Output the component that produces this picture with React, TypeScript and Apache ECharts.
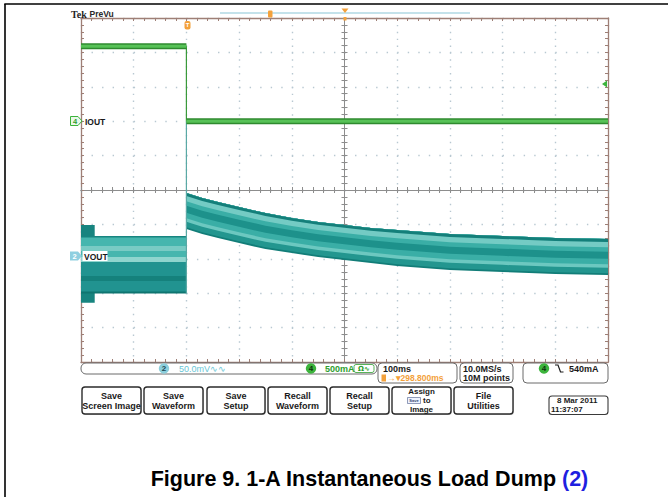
import React, { useEffect, useRef } from "react";
import * as echarts from "echarts";

// ---------------- data ----------------
// Horizontal: 100 ms/div, 10 divisions (trigger at 200 ms)
const timeRangeMs = [0, 1000];
const timeStepMs = 100;
// Vertical graticule: 10 divisions
const divRange = [-5, 5];

// CH4 IOUT (A), 500 mA/div, ground marker 2 div above centre
const ioutAxisAmps = [-3.5, 1.5];
const ioutBeforeTime = [0, 200];
const ioutBeforeAmps = [1.09, 1.09];
const ioutAfterTime = [200, 1000];
const ioutAfterAmps = [0, 0];
const ioutEdgeTime = [200, 200];
const ioutEdgeAmps = [1.09, 0];

// CH2 VOUT (mV), 50 mV/div
const voutAxisMv = [-154, 346];
const burstTime = [0, 26];
const burstTopMv = [45, 45];
const burstBottomMv = [-68, -68];

const preTime = [0, 200];
const preEdgesMv = [-54.5, -51.6, -36.3, -29.1, -8.7, -1.45, 7.3, 14.5, 26.9, 29.1];
const preStripeColors = ["#0f7570", "#219390", "#15817c", "#219390", "#8fd5ce", "#46b6ae", "#79cbc4", "#46b6ae", "#178580"];

const postTime = [200, 230, 260, 300, 350, 400, 450, 500, 550, 600, 650, 700, 750, 800, 850, 900, 950, 1000];
const postTopMv = [91.6, 84.3, 78.5, 71.2, 62.5, 55.2, 49.4, 45.1, 40.7, 37.8, 34.9, 32.0, 30.5, 29.1, 27.6, 26.2, 25.4, 24.7];
const postBottomMv = [39.2, 32.0, 26.2, 18.9, 10.2, 4.4, -1.5, -5.8, -10.2, -14.5, -17.4, -20.3, -21.8, -23.3, -24.7, -26.2, -26.9, -27.6];
const postStripeFractions = [0.05, 0.15, 0.1, 0.15, 0.2, 0.12, 0.15, 0.08];
const postStripeColors = ["#127d78", "#23968f", "#6cc8c0", "#3aaea6", "#1d918b", "#3aaea6", "#74cbc4", "#147f7a"];

const voutEdgeTime = [200, 200];
const voutEdgeMv = [-54.5, 196];

const buttonLabels = [
  ["Save", "Screen Image"],
  ["Save", "Waveform"],
  ["Save", "Setup"],
  ["Recall", "Waveform"],
  ["Recall", "Setup"],
  ["Assign", "to", "Image"],
  ["File", "Utilities"],
];
const buttonLefts = [82, 144, 207, 268, 330, 392, 454];
const buttonWidths = [59, 59, 58, 59, 59, 59, 59];

// ---------------- helpers ----------------
const pairs = (xs: number[], ys: number[]) => xs.map((x, i) => [x, ys[i]]);

function bandSeries(times: number[], lo: number[], hi: number[], color: string, yAxisIndex: number) {
  return {
    type: "custom",
    xAxisIndex: 0,
    yAxisIndex,
    silent: true,
    clip: true,
    data: times.map((t, i) => [t, lo[i], hi[i]]),
    renderItem: (params: any, api: any) => {
      if (params.dataIndex !== 0) return null;
      const top = times.map((t, i) => api.coord([t, hi[i]]));
      const bottom = times.map((t, i) => api.coord([t, lo[i]])).reverse();
      return {
        type: "polygon",
        shape: { points: top.concat(bottom) },
        style: { fill: color },
        silent: true,
      };
    },
  };
}

const SANS = "'Liberation Sans', Arial, sans-serif";
const txt = (x: number, y: number, text: string, font: string, fill: string, align = "left", extra: any = {}) => ({
  type: "text",
  x,
  y,
  silent: true,
  style: { text, font, fill, align, verticalAlign: "middle", textAlign: align, textVerticalAlign: "middle", ...extra },
});

function buildOption() {
  const FRAME = "#9e7f76";
  const CENTRE = "#8d8d8d";
  const DOT = "#b8c8d1";

  const xBase = { type: "value", min: timeRangeMs[0], max: timeRangeMs[1], interval: timeStepMs, axisLabel: { show: false } };
  const yBase = { type: "value", min: divRange[0], max: divRange[1], interval: 1, axisLabel: { show: false } };
  const frameLine = { show: true, onZero: false, lineStyle: { color: FRAME, width: 1.3 } };
  const frameTick = { show: true, inside: true, length: 3, lineStyle: { color: FRAME } };
  const frameMinor = { show: true, splitNumber: 5, length: 3, lineStyle: { color: FRAME } };
  const centreLine = { show: true, onZero: false, lineStyle: { color: CENTRE, width: 1 } };
  const centreMinor = { show: true, splitNumber: 5, length: 3, lineStyle: { color: CENTRE } };

  const xAxis = [
    {
      ...xBase,
      position: "bottom",
      axisLine: frameLine,
      axisTick: frameTick,
      minorTick: frameMinor,
      splitLine: { show: true, lineStyle: { color: DOT, width: 1.4, type: [1.4, 5.48] } },
    },
    { ...xBase, position: "top", axisLine: frameLine, axisTick: frameTick, minorTick: frameMinor, splitLine: { show: false } },
    { ...xBase, position: "bottom", offset: -172, axisLine: centreLine, axisTick: { show: true, inside: true, length: 3, lineStyle: { color: CENTRE } }, minorTick: centreMinor, splitLine: { show: false } },
    { ...xBase, position: "bottom", offset: -172, axisLine: centreLine, axisTick: { show: true, inside: false, length: 3, lineStyle: { color: CENTRE } }, minorTick: centreMinor, splitLine: { show: false } },
  ];
  const yAxis = [
    {
      ...yBase,
      position: "left",
      axisLine: frameLine,
      axisTick: frameTick,
      minorTick: frameMinor,
      splitLine: { show: true, lineStyle: { color: DOT, width: 1.4, type: [1.4, 9.14] } },
    },
    { ...yBase, position: "right", axisLine: frameLine, axisTick: frameTick, minorTick: frameMinor, splitLine: { show: false } },
    { ...yBase, position: "left", offset: -263.5, axisLine: centreLine, axisTick: { show: true, inside: true, length: 3, lineStyle: { color: CENTRE } }, minorTick: centreMinor, splitLine: { show: false } },
    { ...yBase, position: "left", offset: -263.5, axisLine: centreLine, axisTick: { show: true, inside: false, length: 3, lineStyle: { color: CENTRE } }, minorTick: centreMinor, splitLine: { show: false } },
    { type: "value", min: ioutAxisAmps[0], max: ioutAxisAmps[1], show: false },
    { type: "value", min: voutAxisMv[0], max: voutAxisMv[1], show: false },
  ];

  const series: any[] = [];
  // VOUT vertical transition
  series.push({
    type: "line", xAxisIndex: 0, yAxisIndex: 5, silent: true, symbol: "none",
    data: pairs(voutEdgeTime, voutEdgeMv), lineStyle: { color: "#5aa9a5", width: 1.2 },
  });
  // VOUT start-up burst
  series.push(bandSeries(burstTime, burstBottomMv, burstTopMv, "#17847f", 5));
  // VOUT before load dump: stripes
  for (let k = 0; k < preStripeColors.length; k++) {
    series.push(
      bandSeries(preTime, preTime.map(() => preEdgesMv[k]), preTime.map(() => preEdgesMv[preEdgesMv.length - 1]), preStripeColors[k], 5)
    );
  }
  // VOUT after load dump: stripes
  let acc = 0;
  for (let k = 0; k < postStripeColors.length; k++) {
    const f0 = acc;
    acc += postStripeFractions[k];
    const lo = postTime.map((_, i) => postBottomMv[i] + (postTopMv[i] - postBottomMv[i]) * f0);
    series.push(bandSeries(postTime, lo, postTopMv, postStripeColors[k], 5));
  }
  // IOUT
  const ioutLine = (xs: number[], ys: number[], color: string, width: number) => ({
    type: "line", xAxisIndex: 0, yAxisIndex: 4, silent: true, symbol: "none",
    data: pairs(xs, ys), lineStyle: { color, width },
  });
  series.push(ioutLine(ioutEdgeTime, ioutEdgeAmps, "#3a9a3a", 1.2));
  series.push(ioutLine(ioutBeforeTime, ioutBeforeAmps, "#2f8a2f", 6));
  series.push(ioutLine(ioutBeforeTime, ioutBeforeAmps, "#57c257", 3));
  series.push(ioutLine(ioutAfterTime, ioutAfterAmps, "#2f8a2f", 6));
  series.push(ioutLine(ioutAfterTime, ioutAfterAmps, "#57c257", 3));

  // ---------------- decorations ----------------
  const ORANGE = "#f3a13b";
  const GREEN = "#3cb43c";
  const b9 = `bold 9px ${SANS}`;
  const b8 = `bold 8px ${SANS}`;
  const g: any[] = [];
  // page border
  g.push({ type: "line", silent: true, shape: { x1: 4.3, y1: 4, x2: 668, y2: 4 }, style: { stroke: "#000", lineWidth: 1.6 } });
  g.push({ type: "line", silent: true, shape: { x1: 5, y1: 4, x2: 5, y2: 497 }, style: { stroke: "#000", lineWidth: 1.6 } });
  // Tek PreVu
  g.push(txt(71, 14.5, "Tek", "bold 10px 'Liberation Serif', serif", "#1d1d1d"));
  g.push(txt(89.5, 14, "PreVu", `bold 8.5px ${SANS}`, "#2a2a2a"));
  // record bar & markers
  g.push({ type: "line", silent: true, shape: { x1: 220, y1: 13, x2: 470, y2: 13 }, style: { stroke: "#c4e2ea", lineWidth: 2 } });
  g.push({ type: "rect", silent: true, shape: { x: 268, y: 10.5, width: 4.5, height: 7, r: 1 }, style: { fill: ORANGE } });
  g.push({ type: "polygon", silent: true, shape: { points: [[341.5, 8.5], [348.5, 8.5], [345, 13]] }, style: { fill: ORANGE } });
  g.push({ type: "rect", silent: true, shape: { x: 343.5, y: 17, width: 3, height: 3.5 }, style: { fill: ORANGE } });
  g.push({ type: "rect", silent: true, shape: { x: 184.5, y: 21, width: 6, height: 8.5, r: 2 }, style: { fill: ORANGE } });
  g.push(txt(187.5, 25, "T", `bold 6px ${SANS}`, "#fff", "center"));
  // channel 4 marker
  g.push({ type: "polygon", silent: true, shape: { points: [[70.5, 116.5], [78, 116.5], [82, 121], [78, 125.5], [70.5, 125.5]] }, style: { fill: "#eaf7ea", stroke: GREEN, lineWidth: 1 } });
  g.push(txt(75, 121.3, "4", `bold 7.5px ${SANS}`, "#2e9e2e", "center"));
  g.push(txt(85, 121.5, "IOUT", `bold 8.5px ${SANS}`, "#1a1a1a"));
  // channel 2 marker
  g.push({ type: "polygon", silent: true, shape: { points: [[70, 251.5], [78, 251.5], [82, 256], [78, 260.5], [70, 260.5]] }, style: { fill: "#8fcfe0" } });
  g.push(txt(74.5, 256.3, "2", `bold 7.5px ${SANS}`, "#ffffff", "center"));
  g.push({ type: "rect", silent: true, shape: { x: 82.5, y: 251, width: 25, height: 10 }, style: { fill: "#fff" } });
  g.push(txt(84, 256.5, "VOUT", `bold 8.5px ${SANS}`, "#1a1a1a"));
  // trigger level marker
  g.push({ type: "polygon", silent: true, shape: { points: [[602, 84], [607, 80.5], [607, 87.5]] }, style: { fill: GREEN } });

  // status bar
  const box = (x: number, y: number, w: number, h: number, r: number) => ({
    type: "rect", silent: true, shape: { x, y, width: w, height: h, r }, style: { fill: "#fff", stroke: "#6a6a6a", lineWidth: 1 },
  });
  g.push(box(81, 363, 296, 11, 5));
  g.push({ type: "circle", silent: true, shape: { cx: 164, cy: 368.5, r: 5.2 }, style: { fill: "#8ccfdc" } });
  g.push(txt(164, 368.8, "2", b8, "#1f4a55", "center"));
  g.push(txt(179, 368.8, "50.0mV\u223F\u223F", `9px ${SANS}`, "#69c6d6"));
  g.push({ type: "circle", silent: true, shape: { cx: 311, cy: 368.5, r: 5.2 }, style: { fill: GREEN } });
  g.push(txt(311, 368.8, "4", b8, "#10300f", "center"));
  g.push(txt(325, 368.8, "500mA", b9, "#2e9e2e"));
  g.push({ type: "rect", silent: true, shape: { x: 354, y: 364.5, width: 20, height: 8, r: 2 }, style: { fill: "none", stroke: "#2e9e2e", lineWidth: 0.8 } });
  g.push(txt(364, 368.8, "\u03A9\u223F", `bold 7px 'DejaVu Sans', sans-serif`, "#2e9e2e", "center"));

  g.push(box(378, 363, 79, 20, 4));
  g.push(txt(383, 368.5, "100ms", b9, "#1a1a1a"));
  g.push({ type: "rect", silent: true, shape: { x: 381.5, y: 374.5, width: 4.5, height: 7 }, style: { fill: ORANGE } });
  g.push(txt(387, 378.3, "\u2192\u25BE298.800ms", `bold 8.5px ${SANS}`, ORANGE));

  g.push(box(460, 363, 53, 20, 4));
  g.push(txt(463, 368.5, "10.0MS/s", b9, "#1a1a1a"));
  g.push(txt(463, 378, "10M points", b9, "#1a1a1a"));

  g.push(box(523, 363, 85, 20, 4));
  g.push({ type: "circle", silent: true, shape: { cx: 544, cy: 368.5, r: 5.2 }, style: { fill: GREEN } });
  g.push(txt(544, 368.8, "4", b8, "#10300f", "center"));
  g.push({ type: "polyline", silent: true, shape: { points: [[555, 365], [558, 365], [560.5, 372], [563.5, 372]] }, style: { stroke: "#1a1a1a", lineWidth: 1.2, fill: "none" } });
  g.push(txt(569, 368.8, "540mA", b9, "#1a1a1a"));

  // menu buttons
  buttonLabels.forEach((lines, i) => {
    const x = buttonLefts[i];
    const w = buttonWidths[i];
    g.push({ type: "rect", silent: true, shape: { x: x + 1, y: 388, width: w, height: 27, r: 3 }, style: { fill: "#d0d0d0" } });
    g.push({ type: "rect", silent: true, shape: { x, y: 387, width: w, height: 27, r: 3 }, style: { fill: "#fff", stroke: "#2b2b2b", lineWidth: 1.4 } });
    const cx = x + w / 2;
    if (lines.length === 2) {
      g.push(txt(cx, 395.5, lines[0], b9, "#1a1a1a", "center"));
      g.push(txt(cx, 405.5, lines[1], b9, "#1a1a1a", "center"));
    } else {
      g.push(txt(cx, 391.5, lines[0], b8, "#1a1a1a", "center"));
      g.push({ type: "rect", silent: true, shape: { x: cx - 14, y: 397.5, width: 13, height: 6 }, style: { fill: "#eef3ff", stroke: "#4a5a8a", lineWidth: 0.6 } });
      g.push(txt(cx - 7.5, 400.5, "Save", `bold 4px ${SANS}`, "#33446f", "center"));
      g.push(txt(cx + 1.5, 400.5, lines[1], b8, "#1a1a1a"));
      g.push(txt(cx, 409.5, lines[2], b8, "#1a1a1a", "center"));
    }
  });
  // date
  g.push({ type: "rect", silent: true, shape: { x: 549, y: 396, width: 59, height: 18.5, r: 3 }, style: { fill: "#fff", stroke: "#3a3a3a", lineWidth: 1.1 } });
  g.push(txt(557, 400.8, "8 Mar 2011", b8, "#1a1a1a"));
  g.push(txt(551, 409.6, "11:37:07", b8, "#1a1a1a"));

  // caption
  const capFont = `bold 21.5px ${SANS}`;
  g.push(txt(562, 479, "Figure 9. 1-A Instantaneous Load Dump ", capFont, "#000", "right"));
  g.push(txt(562, 479, "(2)", capFont, "#1f1fe0", "left"));

  g.forEach((el) => { el.z = 100; });

  return {
    animation: false,
    backgroundColor: "#ffffff",
    grid: { left: 81, top: 18, width: 527, height: 344, containLabel: false },
    xAxis,
    yAxis,
    series,
    graphic: { elements: g },
  };
}

export default function App() {
  const ref = useRef<HTMLDivElement>(null);
  useEffect(() => {
    const chart = echarts.init(ref.current!, null, { renderer: "svg", width: 668, height: 497 });
    chart.setOption(buildOption() as any);
    return () => chart.dispose();
  }, []);
  return (
    <div
      ref={ref}
      style={{ position: "absolute", left: 0, top: 0, width: 668, height: 497, background: "#ffffff" }}
    />
  );
}
